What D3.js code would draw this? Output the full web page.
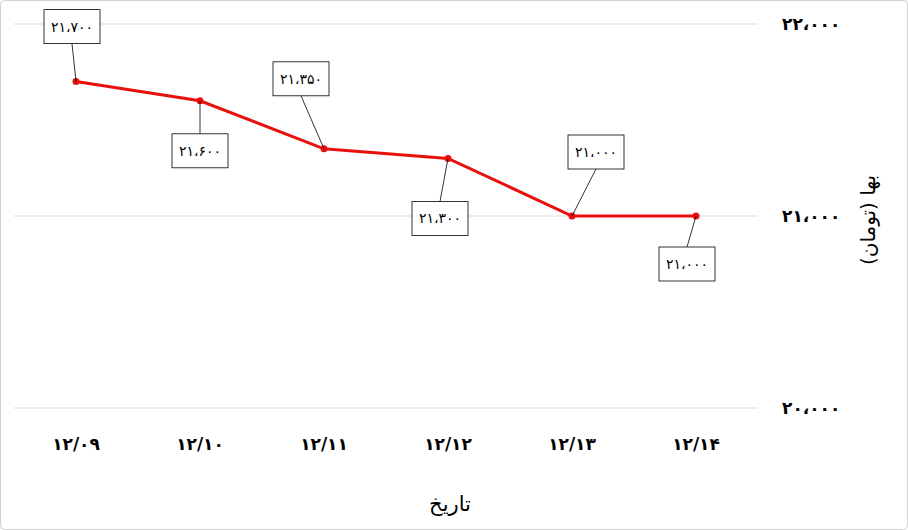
<!DOCTYPE html>
<html>
<head>
<meta charset="utf-8">
<script src="https://d3js.org/d3.v7.min.js"></script>
<style>
  body { margin: 0; background: #fff; }
  text { font-family: "DejaVu Sans", sans-serif; }
</style>
</head>
<body>
<div id="chart"></div>
<script>
const categories = ["۱۲/۰۹", "۱۲/۱۰", "۱۲/۱۱", "۱۲/۱۲", "۱۲/۱۳", "۱۲/۱۴"];
const values = [21700, 21600, 21350, 21300, 21000, 21000];
const valueLabels = ["۲۱،۷۰۰", "۲۱،۶۰۰", "۲۱،۳۵۰", "۲۱،۳۰۰", "۲۱،۰۰۰", "۲۱،۰۰۰"];
const yTicks = [20000, 21000, 22000];
const yTickLabels = ["۲۰،۰۰۰", "۲۱،۰۰۰", "۲۲،۰۰۰"];
// label box offsets from the point (dx, dy)
const labelOffsets = [[-4, -55], [0, 50], [-23, -70], [-8, 60], [24, -64], [-9, 48]];

const W = 908, H = 530;
const svg = d3.select("#chart").append("svg").attr("width", W).attr("height", H);

svg.append("rect").attr("x", 0.5).attr("y", 0.5).attr("width", W - 1).attr("height", H - 1)
  .attr("rx", 4).attr("fill", "#fff").attr("stroke", "#d0d0d0");

const x = d3.scalePoint().domain(categories).range([14, 758]).padding(0.5);
const y = d3.scaleLinear().domain([20000, 22000]).range([408, 24]);

// grid
svg.selectAll("line.grid").data(yTicks).enter().append("line")
  .attr("x1", 14).attr("x2", 758)
  .attr("y1", d => y(d)).attr("y2", d => y(d))
  .attr("stroke", "#d9d9d9");

// y tick labels (right side)
svg.selectAll("text.yt").data(yTicks).enter().append("text")
  .attr("x", 782).attr("y", d => y(d)).attr("dy", "0.35em")
  .attr("font-size", 17).attr("font-weight", "bold")
  .text((d, i) => yTickLabels[i]);

// x tick labels
svg.selectAll("text.xt").data(categories).enter().append("text")
  .attr("x", d => x(d)).attr("y", 444).attr("dy", "0.35em")
  .attr("text-anchor", "middle").attr("font-size", 17).attr("font-weight", "bold")
  .text(d => d);

// axis titles
svg.append("text").attr("x", 450).attr("y", 504).attr("dy", "0.35em")
  .attr("text-anchor", "middle").attr("font-size", 21).text("تاریخ");
svg.append("text").attr("transform", "translate(868,220) rotate(-90)")
  .attr("dy", "0.35em").attr("text-anchor", "middle")
  .attr("font-size", 20).text("بها (تومان)");

const pts = categories.map((c, i) => ({ c, v: values[i], i }));

svg.append("path").datum(pts)
  .attr("fill", "none").attr("stroke", "#e8100c").attr("stroke-width", 3)
  .attr("d", d3.line().x(d => x(d.c)).y(d => y(d.v)));

svg.selectAll("circle").data(pts).enter().append("circle")
  .attr("cx", d => x(d.c)).attr("cy", d => y(d.v)).attr("r", 3.5).attr("fill", "#e8100c");

// data labels with leader lines
const bw = 56, bh = 34;
const lab = svg.selectAll("g.lab").data(pts).enter().append("g");
lab.append("line")
  .attr("x1", d => x(d.c)).attr("y1", d => y(d.v))
  .attr("x2", d => x(d.c) + labelOffsets[d.i][0])
  .attr("y2", d => y(d.v) + labelOffsets[d.i][1] + (labelOffsets[d.i][1] < 0 ? bh / 2 : -bh / 2))
  .attr("stroke", "#000").attr("stroke-width", 0.8);
lab.append("rect")
  .attr("x", d => x(d.c) + labelOffsets[d.i][0] - bw / 2)
  .attr("y", d => y(d.v) + labelOffsets[d.i][1] - bh / 2)
  .attr("width", bw).attr("height", bh)
  .attr("fill", "#fff").attr("stroke", "#000").attr("stroke-width", 0.8);
lab.append("text")
  .attr("x", d => x(d.c) + labelOffsets[d.i][0])
  .attr("y", d => y(d.v) + labelOffsets[d.i][1]).attr("dy", "0.35em")
  .attr("text-anchor", "middle").attr("font-size", 14)
  .text(d => valueLabels[d.i]);
</script>
</body>
</html>
